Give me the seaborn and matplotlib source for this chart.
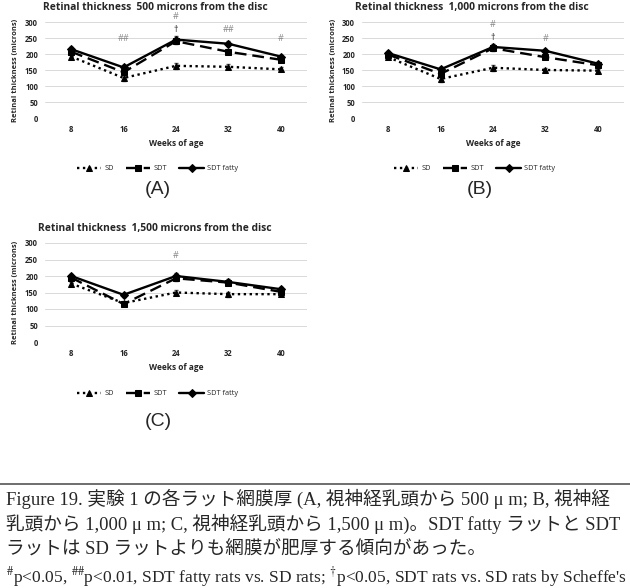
import matplotlib
matplotlib.use("Agg")
import matplotlib.pyplot as plt
import seaborn as sns
import pandas as pd

# data
weeks = ["8", "16", "24", "32", "40"]
groups = ["SD", "SDT", "SDT fatty"]

# (A) 500 microns from the disc
a_sd = [192, 125, 163, 160, 152]
a_sdt = [207, 143, 240, 207, 182]
a_fatty = [215, 158, 245, 232, 192]
a_err = [6, 8, 10, 8, 6]

# (B) 1,000 microns from the disc
b_sd = [190, 122, 157, 150, 148]
b_sdt = [198, 138, 218, 190, 165]
b_fatty = [203, 152, 222, 210, 170]
b_err = [5, 8, 9, 7, 6]

# (C) 1,500 microns from the disc
c_sd = [177, 118, 150, 145, 145]
c_sdt = [195, 115, 193, 180, 152]
c_fatty = [200, 143, 200, 182, 160]
c_err = [6, 7, 8, 8, 6]

# significance marks: (week index, y, text)
a_marks = [(1, 247, "##"), (2, 317, "#"), (2, 278, "†"), (3, 278, "##"), (4, 247, "#")]
b_marks = [(2, 292, "#"), (2, 252, "†"), (3, 247, "#")]
c_marks = [(2, 263, "#")]

sns.set_style("white")
plt.rcParams["font.family"] = ["Open Sans", "DejaVu Sans"]
plt.rcParams["mathtext.fontset"] = "stix"

W, H = 630, 588
fig = plt.figure(figsize=(6.3, 5.88), dpi=100)


def px_axes(left, top, width, height):
    return fig.add_axes([left / W, 1 - (top + height) / H, width / W, height / H])


def panel(ax, title, sd, sdt, fatty, err, marks):
    rows = []
    for g, vals in zip(groups, [sd, sdt, fatty]):
        for i, v in enumerate(vals):
            rows.append({"pos": i, "val": v, "group": g})
    df = pd.DataFrame(rows)

    for vals in [sd, sdt, fatty]:
        ax.errorbar(range(len(weeks)), vals, yerr=err, fmt="none",
                    ecolor="#555555", elinewidth=0.6, capsize=1.5, zorder=1)

    sns.lineplot(data=df, x="pos", y="val", style="group", ax=ax,
                 color="black", linewidth=1.7,
                 markers={"SD": "^", "SDT": "s", "SDT fatty": "D"},
                 dashes={"SD": (1, 1.5), "SDT": (5, 2.5), "SDT fatty": ""},
                 markersize=4.5, markeredgecolor="black", zorder=3)

    for i, y, t in marks:
        ax.text(i, y, t, ha="center", va="center", fontsize=6.5, clip_on=False,
                color="#888888" if t.startswith("#") else "#222222")

    ax.set_xlim(-0.5, 4.5)
    ax.set_ylim(0, 300)
    ax.set_yticks([0, 50, 100, 150, 200, 250, 300])
    ax.set_xticks(range(len(weeks)))
    ax.set_xticklabels(weeks)
    ax.grid(axis="y", color="#d9d9d9", linewidth=0.7)
    for s in ax.spines.values():
        s.set_visible(False)
    ax.tick_params(length=0, labelsize=5.5, pad=5)
    for lab in ax.get_xticklabels() + ax.get_yticklabels():
        lab.set_fontweight("bold")
    ax.set_title(title, fontsize=7.4, fontweight="bold", x=0.42, pad=8.5)
    ax.set_xlabel("Weeks of age", fontsize=6, fontweight="bold", labelpad=4)
    ax.set_ylabel("Retinal thickness (microns)", fontsize=5.4, fontweight="bold", labelpad=4)
    ax.legend(loc="upper center", bbox_to_anchor=(0.43, -0.42), ncol=3, frameon=False,
              fontsize=5.3, handlelength=3.3, columnspacing=1.6, handletextpad=0.5,
              title=None)


ax_a = px_axes(45, 22, 262, 96)
panel(ax_a, "Retinal thickness  500 microns from the disc", a_sd, a_sdt, a_fatty, a_err, a_marks)
ax_b = px_axes(362, 22, 262, 96)
panel(ax_b, "Retinal thickness  1,000 microns from the disc", b_sd, b_sdt, b_fatty, b_err, b_marks)
ax_c = px_axes(45, 243, 262, 99)
panel(ax_c, "Retinal thickness  1,500 microns from the disc", c_sd, c_sdt, c_fatty, c_err, c_marks)

fig.text(158 / W, 1 - 190 / H, "(A)", ha="center", va="center", fontsize=14, family="Liberation Sans")
fig.text(480 / W, 1 - 190 / H, "(B)", ha="center", va="center", fontsize=14, family="Liberation Sans")
fig.text(158 / W, 1 - 422 / H, "(C)", ha="center", va="center", fontsize=14, family="Liberation Sans")

# rule above the caption
fig.add_artist(plt.Line2D([0, 1], [1 - 484 / H, 1 - 484 / H], color="#555555", linewidth=1.2))

cap_font = ["Liberation Serif", "Noto Sans CJK JP"]
caption = [
    "Figure 19. 実験 1 の各ラット網膜厚 (A, 視神経乳頭から 500 μ m; B, 視神経",
    "乳頭から 1,000 μ m; C, 視神経乳頭から 1,500 μ m)。SDT fatty ラットと SDT",
    "ラットは SD ラットよりも網膜が肥厚する傾向があった。",
]
for k, line in enumerate(caption):
    fig.text(6 / W, 1 - (505 + 25 * k) / H, line, ha="left", va="baseline",
             fontsize=13.4, family=cap_font)
fig.text(6 / W, 1 - 582 / H,
         r"$^{\#}$p<0.05, $^{\#\#}$p<0.01, SDT fatty rats vs. SD rats; $^{\dagger}$p<0.05, SDT rats vs. SD rats by Scheffe's",
         ha="left", va="baseline", fontsize=12.5, family=cap_font)

fig.savefig("out.png", dpi=100)
